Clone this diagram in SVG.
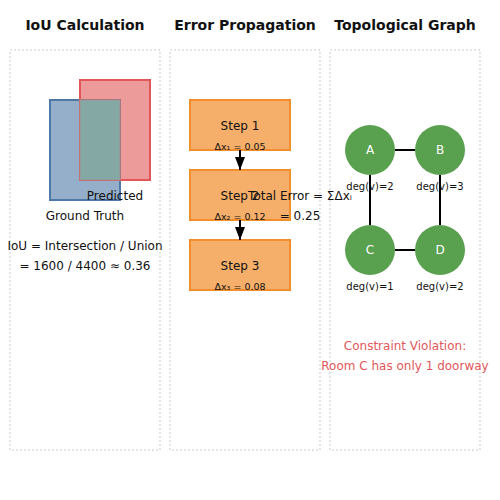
<svg xmlns="http://www.w3.org/2000/svg" width="500" height="500" viewBox="0 0 500 500">
<style>
text{font-family:"DejaVu Sans",sans-serif;fill:#111}
.title{font-size:14px;font-weight:bold;text-anchor:middle}
.lbl{font-size:12px;text-anchor:middle}
.sm{font-size:10px;text-anchor:middle}
.dx{font-size:9.5px;text-anchor:middle}
.panel{fill:none;stroke:#ddd;stroke-width:1.5;stroke-dasharray:2,2}
.step{fill:#f5af6a;stroke:#f28e2b;stroke-width:2}
.node{fill:#59a14f}
.nl{font-size:12px;text-anchor:middle;fill:#fff}
.edge{stroke:#000;stroke-width:2}
.red{fill:#e15759}
</style>
<defs>
<marker id="arr" viewBox="0 0 10 10" refX="10" refY="5" markerWidth="6.5" markerHeight="5" markerUnits="strokeWidth" orient="auto" preserveAspectRatio="none">
<path d="M0,0 L10,5 L0,10 z" fill="#000"/>
</marker>
</defs>
<rect width="500" height="500" fill="#fff"/>
<g id="panels">
<rect class="panel" x="10" y="50" width="150" height="400"/>
<rect class="panel" x="170" y="50" width="150" height="400"/>
<rect class="panel" x="330" y="50" width="150" height="400"/>
<text class="title" x="85" y="30">IoU Calculation</text>
<text class="title" x="245" y="30">Error Propagation</text>
<text class="title" x="405" y="30">Topological Graph</text>
</g>
<g id="iou">
<rect x="50" y="100" width="70" height="100" fill="#4e79a7" fill-opacity="0.6" stroke="#4e79a7" stroke-width="2"/>
<rect x="80" y="80" width="70" height="100" fill="#e15759" fill-opacity="0.6" stroke="#e15759" stroke-width="2"/>
<rect x="80" y="100" width="40" height="80" fill="#84a8a4" stroke="#a09090" stroke-width="1"/>
<text class="lbl" x="115" y="200">Predicted</text>
<text class="lbl" x="85" y="220">Ground Truth</text>
<text class="lbl" x="85" y="250">IoU = Intersection / Union</text>
<text class="lbl" x="85" y="270">= 1600 / 4400 ≈ 0.36</text>
</g>
<g id="step1">
<rect class="step" x="190" y="100" width="100" height="50"/>
<text class="lbl" x="240" y="130">Step 1</text>
<text class="dx" x="240" y="150">Δx₁ = 0.05</text>
</g>
<g id="step2">
<rect class="step" x="190" y="170" width="100" height="50"/>
<text class="lbl" x="240" y="200">Step 2</text>
<text class="dx" x="240" y="220">Δx₂ = 0.12</text>
</g>
<g id="step3">
<rect class="step" x="190" y="240" width="100" height="50"/>
<text class="lbl" x="240" y="270">Step 3</text>
<text class="dx" x="240" y="290">Δx₃ = 0.08</text>
</g>
<g id="total">
<text class="lbl" x="300" y="200">Total Error = ΣΔxᵢ</text>
<text class="lbl" x="300" y="220">= 0.25</text>
</g>
<g id="nodeA"><circle class="node" cx="370" cy="150" r="25"/><text class="nl" x="370" y="154">A</text><text class="sm" x="370" y="190">deg(v)=2</text></g>
<g id="nodeB"><circle class="node" cx="440" cy="150" r="25"/><text class="nl" x="440" y="154">B</text><text class="sm" x="440" y="190">deg(v)=3</text></g>
<g id="nodeC"><circle class="node" cx="370" cy="250" r="25"/><text class="nl" x="370" y="254">C</text><text class="sm" x="370" y="290">deg(v)=1</text></g>
<g id="nodeD"><circle class="node" cx="440" cy="250" r="25"/><text class="nl" x="440" y="254">D</text><text class="sm" x="440" y="290">deg(v)=2</text></g>
<g id="connectors">
<line class="edge" x1="240" y1="150" x2="240" y2="170" marker-end="url(#arr)"/>
<line class="edge" x1="240" y1="220" x2="240" y2="240" marker-end="url(#arr)"/>
<line class="edge" x1="395" y1="150" x2="415" y2="150"/>
<line class="edge" x1="370" y1="175" x2="370" y2="225"/>
<line class="edge" x1="440" y1="175" x2="440" y2="225"/>
<line class="edge" x1="395" y1="250" x2="415" y2="250"/>
</g>
<g id="violation">
<text class="lbl red" x="405" y="350">Constraint Violation:</text>
<text class="lbl red" x="405" y="370">Room C has only 1 doorway</text>
</g>
</svg>
